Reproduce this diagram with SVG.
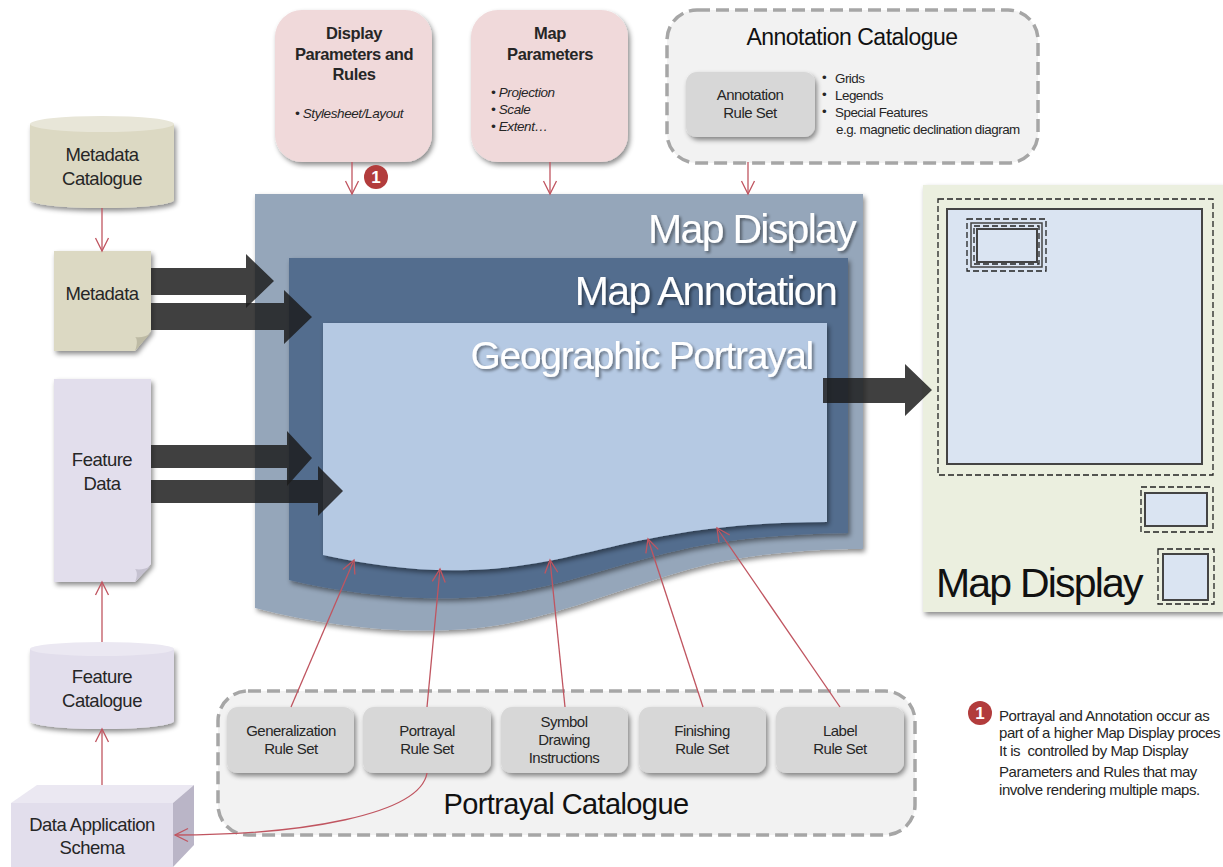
<svg xmlns="http://www.w3.org/2000/svg" width="1223" height="867" viewBox="0 0 1223 867">
<style>
text{font-family:"Liberation Sans",Arial,sans-serif;fill:#262626;text-anchor:middle;letter-spacing:-.5px}
.l{text-anchor:start}
.s18{font-size:18.500px}.s15{font-size:15px}.s13{font-size:13.400px}.nt{font-size:15px;text-anchor:start;letter-spacing:-.45px;white-space:pre}
.b{font-weight:bold;font-size:16.500px;letter-spacing:-.4px}
.i{font-style:italic;font-size:13.500px;text-anchor:start;letter-spacing:-.4px}
.h{fill:#111}
.w{fill:#fff;font-size:41px;letter-spacing:-1.700px;text-anchor:end}
.rule{fill:#d7d7d7;filter:url(#sh)}
.cat{fill:#f2f2f2;stroke:#a6a6a6;stroke-width:3.500;stroke-dasharray:13 6}
.pink{fill:#f0d9da;filter:url(#sh)}
.dash{fill:none;stroke:#222;stroke-width:1.300;stroke-dasharray:6 3}
.solid{fill:#dae4f2;stroke:#444;stroke-width:2}
.red{fill:none;stroke:#c05560;stroke-width:1.300;marker-end:url(#v)}
.big{fill:#1c1c1c;fill-opacity:.84}
.badge{fill:#b23c3c}
.n{fill:#fff;font-weight:bold;font-size:17px;letter-spacing:0}
</style>
<defs>
<filter id="sh" x="-10%" y="-10%" width="125%" height="125%"><feDropShadow dx="2" dy="3" stdDeviation="2.500" flood-color="#000" flood-opacity=".45"/></filter>
<filter id="ts" x="-5%" y="-15%" width="110%" height="135%"><feDropShadow dx="2" dy="2" stdDeviation="1.500" flood-color="#000" flood-opacity=".45"/></filter>
<marker id="v" markerUnits="userSpaceOnUse" markerWidth="18" markerHeight="18" refX="14" refY="9" orient="auto"><path d="M1 2.500L14 9L1 15.500" fill="none" stroke="#c05560" stroke-width="1.300"/></marker>
</defs>

<g id="map-display-layer">
<path d="M255 194H863V549C800 549 730 556 680 572C600 595 530 628 450 630C390 633 320 625 255 608Z" fill="#95a6ba" filter="url(#sh)"/>
<text class="w" x="855" y="243" filter="url(#ts)">Map Display</text>
</g>
<g id="map-annotation-layer">
<path d="M289 258H848V533C790 534 730 538 680 550C610 565 540 596 460 598C400 600 340 592 289 580Z" fill="#536d8e" filter="url(#sh)"/>
<text class="w" x="836" y="305" filter="url(#ts)">Map Annotation</text>
</g>
<g id="geographic-portrayal-layer">
<path d="M323 323H827V522C760 522 700 528 648 539C590 550 540 568 470 570C420 572 370 565 323 555Z" fill="#b5c9e3" filter="url(#sh)"/>
<text class="w" x="813" y="369" style="font-size:39px;letter-spacing:-1.300px" filter="url(#ts)">Geographic Portrayal</text>
</g>

<g id="metadata-catalogue">
<path d="M30 124V200A72 8 0 0 0 174 200V124Z" fill="#dcd9c3" filter="url(#sh)"/>
<ellipse cx="102" cy="124" rx="72" ry="8" fill="#e8e6d8"/>
<text class="s18" x="102" y="161">Metadata</text><text class="s18" x="102" y="185">Catalogue</text>
</g>
<g id="metadata">
<path d="M54 251H151V331L135 351H54Z" fill="#dcd9c3" filter="url(#sh)"/>
<path d="M151 333L135 351C138 343 137 338 135 337C140 338 146 337 151 333Z" fill="#bdbaa4"/>
<text class="s18" x="102" y="300">Metadata</text>
</g>
<g id="feature-data">
<path d="M54 379H151V564L135 582H54Z" fill="#e2deec" filter="url(#sh)"/>
<path d="M151 566L135 582C138 575 137 571 135 569C140 570 146 569 151 566Z" fill="#c5c1d0"/>
<text class="s18" x="102" y="466">Feature</text><text class="s18" x="102" y="490">Data</text>
</g>
<g id="feature-catalogue">
<path d="M30 649V721A72 8 0 0 0 174 721V649Z" fill="#e2deec" filter="url(#sh)"/>
<ellipse cx="102" cy="649" rx="72" ry="7" fill="#ebe8f2"/>
<text class="s18" x="102" y="683">Feature</text><text class="s18" x="102" y="707">Catalogue</text>
</g>
<g id="data-application-schema">
<path d="M11 803L37 785H194L173 803Z" fill="#ebe8f2"/>
<path d="M173 803L194 785V845L173 867Z" fill="#bab5c7"/>
<rect x="11" y="803" width="162" height="64" fill="#e2deec"/>
<text class="s18" x="92" y="831">Data Application</text><text class="s18" x="92" y="854">Schema</text>
</g>

<g id="display-parameters">
<rect class="pink" x="275" y="10" width="157" height="152" rx="27"/>
<text class="b" x="354" y="39">Display</text><text class="b" x="354" y="60">Parameters and</text><text class="b" x="354" y="80">Rules</text>
<text class="i" x="295" y="118">• Stylesheet/Layout</text>
</g>
<g id="map-parameters">
<rect class="pink" x="471" y="10" width="157" height="152" rx="27"/>
<text class="b" x="550" y="39">Map</text><text class="b" x="550" y="60">Parameters</text>
<text class="i" x="491" y="97">• Projection</text><text class="i" x="491" y="114">• Scale</text><text class="i" x="491" y="131">• Extent…</text>
</g>
<g id="annotation-catalogue">
<rect class="cat" x="667" y="10" width="371" height="153" rx="30"/>
<text class="h" x="852" y="45" style="font-size:23px">Annotation Catalogue</text>
<rect class="rule" x="686" y="72" width="129" height="65" rx="11"/>
<text class="s15" x="750" y="100">Annotation</text><text class="s15" x="750" y="118">Rule Set</text>
<text class="l s13" x="822" y="82">•</text><text class="l s13" x="835" y="83">Grids</text>
<text class="l s13" x="822" y="99">•</text><text class="l s13" x="835" y="100">Legends</text>
<text class="l s13" x="822" y="116">•</text><text class="l s13" x="835" y="117">Special Features</text>
<text class="l s13" x="836" y="134">e.g. magnetic declination diagram</text>
</g>

<g id="portrayal-catalogue">
<rect class="cat" x="218" y="691" width="697" height="144" rx="30"/>
<text class="h" x="566" y="814" style="font-size:29px;letter-spacing:-.6px">Portrayal Catalogue</text>
</g>
<g id="generalization-rule-set"><rect class="rule" x="227" y="707" width="127" height="66" rx="11"/>
<text class="s15" x="291" y="736">Generalization</text><text class="s15" x="291" y="754">Rule Set</text></g>
<g id="portrayal-rule-set"><rect class="rule" x="363" y="707" width="128" height="66" rx="11"/>
<text class="s15" x="427" y="736">Portrayal</text><text class="s15" x="427" y="754">Rule Set</text></g>
<g id="symbol-drawing-instructions"><rect class="rule" x="501" y="707" width="127" height="66" rx="11"/>
<text class="s15" x="564" y="727">Symbol</text><text class="s15" x="564" y="745">Drawing</text><text class="s15" x="564" y="763">Instructions</text></g>
<g id="finishing-rule-set"><rect class="rule" x="639" y="707" width="127" height="66" rx="11"/>
<text class="s15" x="702" y="736">Finishing</text><text class="s15" x="702" y="754">Rule Set</text></g>
<g id="label-rule-set"><rect class="rule" x="776" y="707" width="128" height="66" rx="11"/>
<text class="s15" x="840" y="736">Label</text><text class="s15" x="840" y="754">Rule Set</text></g>

<g id="map-display-panel">
<rect x="923" y="185" width="300" height="427" fill="#ebefdf" filter="url(#sh)"/>
<rect class="dash" x="938" y="199" width="275" height="276"/>
<rect class="solid" x="947" y="209" width="255" height="255"/>
<rect class="dash" x="967" y="219" width="79" height="52"/>
<rect x="971" y="223" width="71" height="44" fill="none" stroke="#444" stroke-width="1.500"/>
<rect class="dash" x="974" y="226" width="65" height="38"/>
<rect class="solid" x="977" y="229" width="60" height="33"/>
<rect class="dash" x="1141" y="487" width="72" height="45"/>
<rect class="solid" x="1145" y="493" width="62" height="33"/>
<rect class="dash" x="1158" y="549" width="56" height="55"/>
<rect class="solid" x="1163" y="554" width="45" height="46"/>
<text x="936" y="597" style="text-anchor:start;font-size:41px;fill:#111;letter-spacing:-1.800px">Map Display</text>
</g>

<g id="note">
<circle class="badge" cx="980" cy="713" r="12"/><text class="n" x="980" y="719">1</text>
<text class="nt" x="999" y="721">Portrayal and Annotation occur as</text>
<text class="nt" x="999" y="738">part of a higher Map Display proces</text>
<text class="nt" x="999" y="756">It is  controlled by Map Display</text>
<text class="nt" x="999" y="777">Parameters and Rules that may</text>
<text class="nt" x="999" y="795">involve rendering multiple maps.</text>
</g>
<g id="badge-1"><circle class="badge" cx="376" cy="177" r="12"/><text class="n" x="376" y="183">1</text></g>

<g id="connectors">
<path class="big" d="M151 268H246V254L274 281L246 308V295H151Z"/>
<path class="big" d="M151 303H284V290L312 317L284 344V330H151Z"/>
<path class="big" d="M151 445H287V431L312 458L287 486V468H151Z"/>
<path class="big" d="M151 480H318V466L343 491L318 516V503H151Z"/>
<path class="big" d="M823 378H905V364L932 390L905 416V403H823Z"/>
<path class="red" d="M102 208V251"/>
<path class="red" d="M352 162V194"/>
<path class="red" d="M550 162V194"/>
<path class="red" d="M748 162V194"/>
<path class="red" d="M102 642V582"/>
<path class="red" d="M102 785V729"/>
<path class="red" d="M291 707L354 560"/>
<path class="red" d="M427 707L440 569"/>
<path class="red" d="M565 707L550 560"/>
<path class="red" d="M703 707L648 539"/>
<path class="red" d="M840 707L717 528"/>
<path class="red" d="M427 773C420 815 300 835 175 835"/>
</g>
</svg>
